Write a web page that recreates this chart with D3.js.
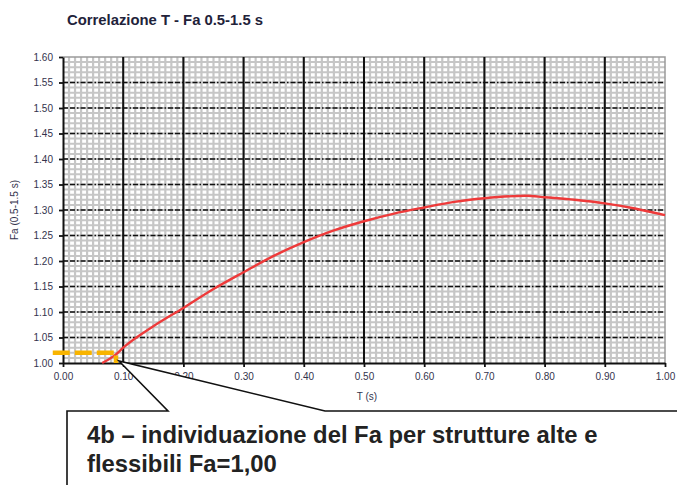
<!DOCTYPE html>
<html>
<head>
<meta charset="utf-8">
<script src="https://cdn.jsdelivr.net/npm/d3@7"></script>
<style>
  html, body { margin: 0; padding: 0; background: #ffffff; }
  svg { display: block; }
</style>
</head>
<body>
<script>
// ---- data ----
const periodT = [0.065, 0.087, 0.10, 0.15, 0.20, 0.25, 0.30, 0.35, 0.40, 0.45, 0.50, 0.55, 0.60, 0.65, 0.70, 0.77, 0.80, 0.85, 0.90, 0.95, 1.00];
const faValues = [1.000, 1.016, 1.030, 1.072, 1.108, 1.145, 1.178, 1.210, 1.237, 1.260, 1.278, 1.293, 1.305, 1.316, 1.323, 1.328, 1.325, 1.320, 1.313, 1.303, 1.290];
const xTicks = [0, 0.1, 0.2, 0.3, 0.4, 0.5, 0.6, 0.7, 0.8, 0.9, 1.0];
const yTicks = [1.00, 1.05, 1.10, 1.15, 1.20, 1.25, 1.30, 1.35, 1.40, 1.45, 1.50, 1.55, 1.60];
const markerT = [-0.017, 0.088, 0.088];
const markerFa = [1.02, 1.02, 1.00];
const titleText = "Correlazione T - Fa 0.5-1.5 s";
const xLabel = "T (s)";
const yLabel = "Fa (0.5-1.5 s)";
const noteLines = ["4b \u2013 individuazione del Fa per strutture alte e", "flessibili Fa=1,00"];

const W = 677, H = 485;
const svg = d3.select("body").append("svg").attr("width", W).attr("height", H);

const x = d3.scaleLinear().domain([0, 1]).range([63, 665]);
const y = d3.scaleLinear().domain([1, 1.6]).range([363, 57]);

// background
svg.append("rect").attr("x", x(0)).attr("y", y(1.6)).attr("width", x(1) - x(0)).attr("height", y(1) - y(1.6)).attr("fill", "#ffffff");

// minor grid (0.01 steps)
const minorX = d3.range(1, 100).map(i => i / 100);
const minorY = d3.range(1, 60).map(i => 1 + i / 100);
const grid = svg.append("g");
grid.selectAll("line.mx").data(minorX).join("line")
  .attr("x1", d => x(d)).attr("x2", d => x(d)).attr("y1", y(1)).attr("y2", y(1.6))
  .attr("stroke", "#c6c6c6").attr("stroke-width", 2.2);
grid.selectAll("line.my").data(minorY).join("line")
  .attr("y1", d => y(d)).attr("y2", d => y(d)).attr("x1", x(0)).attr("x2", x(1))
  .attr("stroke", "#c6c6c6").attr("stroke-width", 2);

// border top/right
svg.append("path")
  .attr("d", `M${x(0)},${y(1.6)}H${x(1)}V${y(1)}`)
  .attr("fill", "none").attr("stroke", "#9a9a9a").attr("stroke-width", 1.5);

// major horizontal dash-dot lines
svg.append("g").selectAll("line").data(yTicks.filter(d => d > 1.001 && d < 1.599)).join("line")
  .attr("x1", x(0)).attr("x2", x(1)).attr("y1", d => y(d)).attr("y2", d => y(d))
  .attr("stroke", "#111").attr("stroke-width", 1.6).attr("stroke-dasharray", "5,2,5,2,1.5,2");

// major vertical lines
svg.append("g").selectAll("line").data(xTicks.filter(d => d > 0.001 && d < 0.999)).join("line")
  .attr("x1", d => x(d)).attr("x2", d => x(d)).attr("y1", y(1)).attr("y2", y(1.6))
  .attr("stroke", "#111").attr("stroke-width", 2);

// axes
const yAxis = svg.append("g").attr("transform", `translate(${x(0)},0)`)
  .call(d3.axisLeft(y).tickValues(yTicks).tickFormat(d3.format(".2f")).tickSize(4).tickSizeOuter(0).tickPadding(6));
const xAxis = svg.append("g").attr("transform", `translate(0,${y(1)})`)
  .call(d3.axisBottom(x).tickValues(xTicks).tickFormat(d3.format(".2f")).tickSize(4).tickSizeOuter(0).tickPadding(6));
[yAxis, xAxis].forEach(a => {
  a.select(".domain").attr("stroke", "#111").attr("stroke-width", 2);
  a.selectAll(".tick line").attr("stroke", "#111").attr("stroke-width", 1.8);
  a.selectAll("text").attr("font-family", "Liberation Sans, Arial, sans-serif").attr("font-size", 10).attr("fill", "#33334d");
});

// red curve
const line = d3.line().x((d, i) => x(periodT[i])).y(d => y(d)).curve(d3.curveMonotoneX);
svg.append("path").datum(faValues).attr("d", line)
  .attr("fill", "none").attr("stroke", "#ee3a3a").attr("stroke-width", 2.4);

// yellow marker
const mline = d3.line().x((d, i) => x(markerT[i])).y(d => y(d));
svg.append("path").datum(markerFa).attr("d", mline)
  .attr("fill", "none").attr("stroke", "#f8b400").attr("stroke-width", 4.5).attr("stroke-dasharray", "17,5");

// title & labels
svg.append("text").attr("x", 67).attr("y", 25).text(titleText)
  .attr("font-family", "Liberation Sans, Arial, sans-serif").attr("font-weight", "bold").attr("font-size", 14)
  .attr("textLength", 196).attr("lengthAdjust", "spacingAndGlyphs").attr("fill", "#22223a");
svg.append("text").attr("x", (x(0) + x(1)) / 2 + 3).attr("y", 400).attr("text-anchor", "middle").text(xLabel)
  .attr("font-family", "Liberation Sans, Arial, sans-serif").attr("font-size", 10).attr("fill", "#33334d");
svg.append("text").attr("transform", `translate(18,${(y(1) + y(1.6)) / 2}) rotate(-90)`).attr("text-anchor", "middle").text(yLabel)
  .attr("font-family", "Liberation Sans, Arial, sans-serif").attr("font-size", 10).attr("fill", "#33334d");

// callout
const apexX = x(0.093), apexY = y(1.004);
const boxTop = 411;
svg.append("path")
  .attr("d", `M67,${H + 5}V${boxTop}H168L${apexX},${apexY}L325,${boxTop}H${W + 5}V${H + 5}Z`)
  .attr("fill", "#ffffff").attr("stroke", "#111").attr("stroke-width", 1.6).attr("stroke-linejoin", "miter");
svg.append("g").selectAll("text").data(noteLines).join("text")
  .attr("x", 87).attr("y", (d, i) => 443 + i * 29).text(d => d)
  .attr("font-family", "Liberation Sans, Arial, sans-serif").attr("font-weight", "bold").attr("font-size", 23.8).attr("fill", "#222");
</script>
</body>
</html>
